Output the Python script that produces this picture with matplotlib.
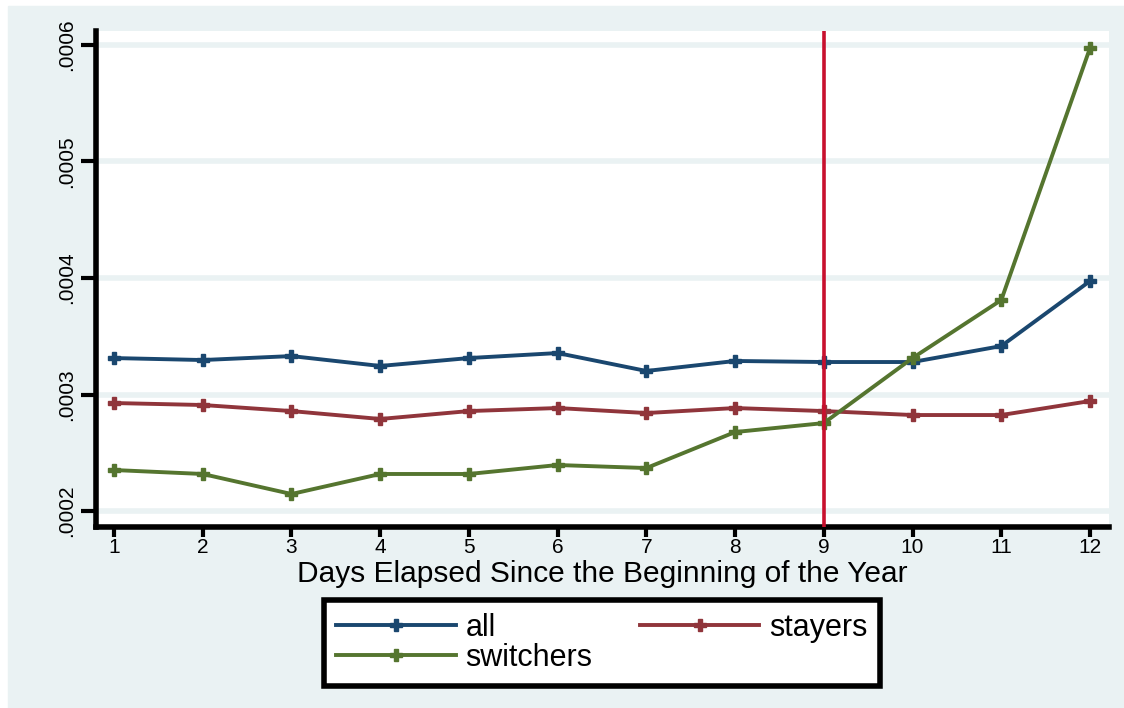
import numpy as np
import matplotlib
matplotlib.use('Agg')
import matplotlib.pyplot as plt

plt.rcParams['font.family'] = ['Liberation Sans', 'DejaVu Sans']

# days elapsed and mean values per group
days = [1, 2, 3, 4, 5, 6, 7, 8, 9, 10, 11, 12]
all_vals = [.0003313, .0003296, .0003330, .0003245, .0003313, .0003356,
            .0003202, .0003288, .0003279, .0003279, .0003416, .0003974]
stayers = [.0002927, .0002910, .0002858, .0002790, .0002858, .0002884,
           .0002841, .0002884, .0002858, .0002824, .0002824, .0002944]
switchers = [.0002352, .0002318, .0002146, .0002318, .0002318, .0002395,
             .0002369, .0002678, .0002755, .0003313, .0003811, .0005974]
yticks = [.0002, .0003, .0004, .0005, .0006]
ytick_labels = ['.0002', '.0003', '.0004', '.0005', '.0006']
cutoff_day = 9

bg = '#EAF2F3'
fig = plt.figure(figsize=(11.24, 7.08), dpi=100)
fig.patch.set_facecolor('white')
# light blue-grey graph region (white border at left/top)
fig.patches.append(plt.Rectangle((8/1124, 0), 1 - 8/1124, 1 - 6/708,
                                 transform=fig.transFigure, color=bg, zorder=-10))

ax = fig.add_axes([96/1124, 1 - 527/708, (1109 - 96)/1124, (527 - 31)/708])
ax.set_facecolor('white')

l1, = ax.plot(days, all_vals, color='#1A476F', lw=2.8, marker='P', ms=9, label='all', zorder=3)
l2, = ax.plot(days, stayers, color='#90353B', lw=2.8, marker='P', ms=9, label='stayers', zorder=3)
l3, = ax.plot(days, switchers, color='#55752F', lw=2.8, marker='P', ms=9, label='switchers', zorder=3)
ax.axvline(cutoff_day, color='#C8102E', lw=2.6, zorder=4)

ax.set_xlim(0.797, 12.214)
ax.set_ylim(0.0001863, 0.000612)
ax.set_xticks(days)
ax.set_xticklabels([str(d) for d in days], fontsize=15)
ax.set_yticks(yticks)
ax.set_yticklabels(ytick_labels, fontsize=15, rotation=90, va='center')
ax.yaxis.grid(True, color=bg, lw=4, zorder=0)
ax.set_axisbelow(True)
ax.tick_params(axis='x', length=7, width=3, color='black', pad=1)
ax.tick_params(axis='y', length=11, width=3, color='black', pad=3)

for s in ['top', 'right']:
    ax.spines[s].set_visible(False)
for s in ['left', 'bottom']:
    ax.spines[s].set_linewidth(4)
    ax.spines[s].set_color('black')

ax.set_xlabel('Days Elapsed Since the Beginning of the Year', fontsize=21.5, labelpad=2)

# order so that row 1 = all, stayers ; row 2 = switchers
leg = fig.legend([l1, l3, l2], ['all', 'switchers', 'stayers'],
                 loc='center', bbox_to_anchor=(602/1124, 1 - 643/708),
                 ncol=2, fontsize=22, handlelength=3.9, handletextpad=0.33,
                 columnspacing=1.55, frameon=True, fancybox=False, borderaxespad=0,
                 labelspacing=0.0, borderpad=0.42)
leg.get_frame().set_edgecolor('black')
leg.get_frame().set_linewidth(4)
leg.get_frame().set_facecolor('white')
leg.get_frame().set_alpha(1)

fig.savefig('out.png', dpi=100, facecolor=fig.get_facecolor())
